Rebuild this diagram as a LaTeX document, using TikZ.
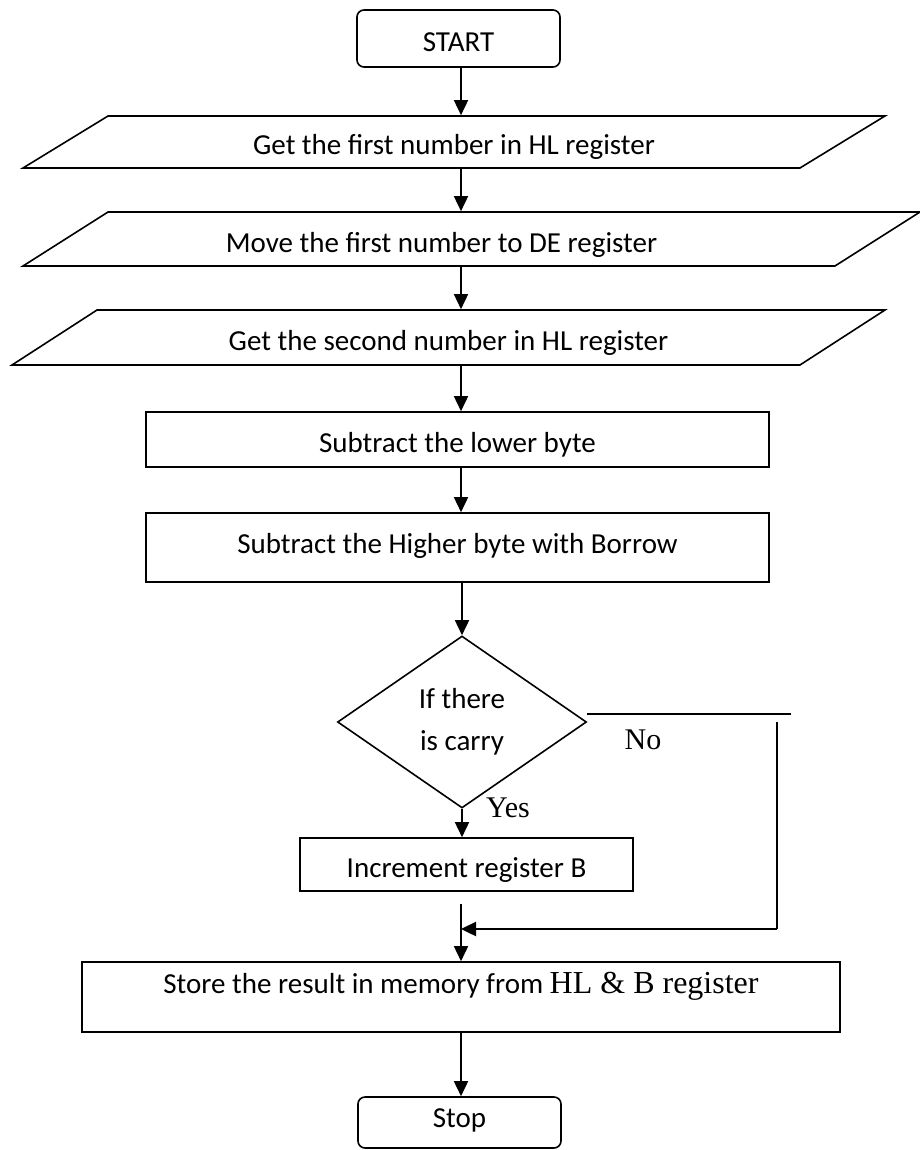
\documentclass[tikz,border=0pt]{standalone}
\usepackage{fontspec}
\setmainfont{Carlito}
\newfontfamily\timesfont{Liberation Serif}
\usetikzlibrary{shapes.geometric,arrows.meta}

\begin{document}
\begin{tikzpicture}[x=1pt,y=-1pt,
    every node/.style = {font=\fontsize{29}{34}\selectfont, inner sep=0pt},
    box/.style = {draw, line width=1.6pt, rectangle, text height=26pt, text depth=0pt},
    terminal/.style = {box, rounded corners=7pt, minimum width=203pt},
    io/.style = {box, trapezium, trapezium left angle=17,
                 trapezium right angle=163, trapezium stretches body},
    decision/.style = {draw, line width=1.6pt, diamond, minimum width=249pt, minimum height=172pt},
    arrow/.style = {line width=1.6pt, -{Triangle[width=14pt,length=15pt]}},
    tag/.style = {font=\timesfont\fontsize{30}{34}\selectfont}]

                    \useasboundingbox (0,0) rectangle (920,1150);

                    % blocks
                    \node[terminal, minimum height=57pt] (start) at (458.5,38.5) {START};
                    \node[io, minimum width=862pt, minimum height=52pt] (in1) at (454,142) {Get the first number in HL register};
                    \node[io, minimum width=897pt, minimum height=54pt] (in2) at (471.5,239) {\hspace*{-60pt}Move the first number to DE register};
                    \node[io, minimum width=873pt, minimum height=55pt] (in3) at (448.5,337.5) {Get the second number in HL register};
                    \node[box, minimum width=623pt, minimum height=55pt] (sublo) at (457.5,439.5) {Subtract the lower byte};
                    \node[box, minimum width=623pt, minimum height=69pt, text height=12pt] (subhi) at (457.5,547.5) {Subtract the Higher byte with Borrow};
                    \node[decision, align=center, font=\fontsize{29}{42}\selectfont] (carry) at (462,722) {If there\\is carry};
                    \node[box, minimum width=333pt, minimum height=53pt] (incb) at (466.5,864.5) {Increment register B};
                    \node[box, minimum width=758pt, minimum height=70pt, text height=22pt, text depth=30pt] (store) at (461,997)
                        {Store the result in memory from {\timesfont\fontsize{32}{38}\selectfont HL \& B register}};
                    \node[terminal, minimum height=51pt, text height=9pt] (stop) at (459.5,1122.5) {Stop};

                    % branch labels
                    \node[tag] (yes) at (508,808) {Yes};
                    \node[tag] (no) at (643,740) {No};

                    \coordinate (spine) at (461,0);
                    \coordinate (noend) at (791,714);
                    \coordinate (nodown) at (777,722);
                    \coordinate (nojoin) at (777,929);
                    \coordinate (merge) at (461,904);

                    % main flow
                    \draw[arrow] (start.south -| spine) -- (in1.north -| spine);
                    \draw[arrow] (in1.south -| spine) -- (in2.north -| spine);
                    \draw[arrow] (in2.south -| spine) -- (in3.north -| spine);
                    \draw[arrow] (in3.south -| spine) -- (sublo.north -| spine);
                    \draw[arrow] (sublo.south -| spine) -- (subhi.north -| spine);
                    \draw[arrow] (subhi.south -| carry.north) -- (carry.north);

                    % yes
                    \draw[arrow] (carry.south) -- (incb.north -| carry.south);

                    % no
                    \draw[line width=1.6pt] (carry.east |- noend) -- (noend);
                    \draw[line width=1.6pt] (nodown) -- (nojoin);
                    \draw[arrow, line width=2.4pt] (nojoin) -- (nojoin -| spine);

                    % join and end
                    \draw[arrow] (merge) -- (store.north -| spine);
                    \draw[arrow] (store.south -| spine) -- (stop.north -| spine);

                \end{tikzpicture}
\end{document}
